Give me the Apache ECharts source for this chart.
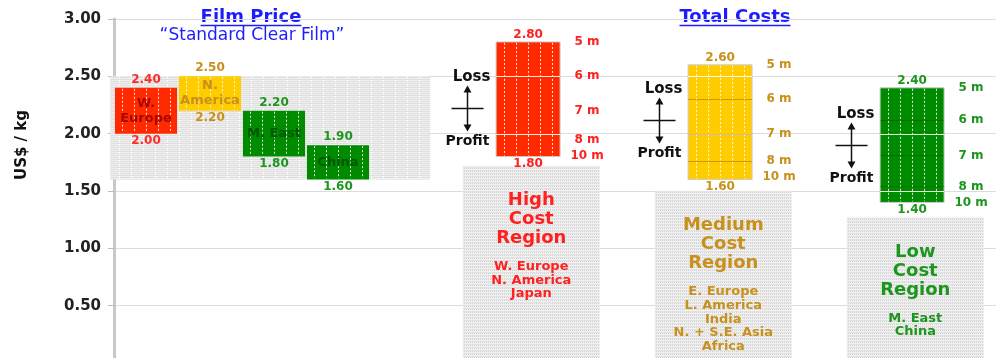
<!DOCTYPE html>
<html>
<head>
<meta charset="utf-8">
<script src="https://cdn.jsdelivr.net/npm/echarts@6/dist/echarts.min.js"></script>
<style>
    html, body { margin: 0; padding: 0; background: #fff; }
    #chart { width: 996px; height: 358px; }
</style>
</head>
<body>
<div id="chart"></div>
<script>
(function () {

    // film price by market (US$ / kg)
    var PRICE_NAMES = ['W.\nEurope', 'N.\nAmerica', 'M. East', 'China'];
    var PRICE_HIGH = [2.40, 2.50, 2.20, 1.90];
    var PRICE_LOW = [2.00, 2.20, 1.80, 1.60];
    var PRICE_BAND = [1.60, 2.50];

    // total costs by region, per plant volume
    var VOLUMES = ['5 m', '6 m', '7 m', '8 m', '10 m'];
    var COST_HIGH = [2.80, 2.50, 2.20, 1.95, 1.80];
    var COST_MEDIUM = [2.60, 2.30, 2.00, 1.76, 1.60];
    var COST_LOW = [2.40, 2.12, 1.81, 1.54, 1.40];
    var BREAK_EVEN = [2.22, 2.12, 1.90];
    var REGION_TOP = [1.72, 1.50, 1.27];
    var REGION_TITLES = ['High\nCost\nRegion', 'Medium\nCost\nRegion', 'Low\nCost\nRegion'];
    var REGION_COUNTRIES = [
        'W. Europe\nN. America\nJapan',
        'E. Europe\nL. America\nIndia\nN. + S.E. Asia\nAfrica',
        'M. East\nChina'
    ];

    // y axis ticks
    var Y_MIN = 0;
    var Y_MAX = 3;
    var Y_STEP = 0.5;

    var COSTS = [COST_HIGH, COST_MEDIUM, COST_LOW];

    var RED = '#ff2a00', YELLOW = '#ffcc00', GREEN = '#008a00';
    var PRICE_COLORS = [RED, YELLOW, GREEN, GREEN];
    var PRICE_TEXT = ['#ff2a2a', '#c8901c', '#1d961d', '#1d961d'];
    var PRICE_NAME_TEXT = ['#a80800', '#c8901c', '#005800', '#005800'];
    var COST_COLORS = [RED, YELLOW, GREEN];
    var COST_TEXT = ['#ff2020', '#c8901c', '#1d961d'];

    var FONT = '"DejaVu Sans", sans-serif';

    // x axis is measured in film bar slots
    var X_MAX = 882 / 64;
    var BAR_W = 0.97;
    var COST_W = 1.0;
    var BLOCK_W = 2.14;
    function priceX(i) { return i + 0.5; }
    function costX(i) { return 6.47 + 3 * i; }

    var chart = echarts.init(document.getElementById('chart'));

    //
    function makePattern(w, h, draw) {
        var c = document.createElement('canvas');
        c.width = w;
        c.height = h;
        draw(c.getContext('2d'));
        return { image: c, repeat: 'repeat' };
    }

    var bandFill = makePattern(12, 4, function (ctx) {
        ctx.fillStyle = '#dedede';
        ctx.fillRect(0, 0, 12, 4);
        ctx.fillStyle = '#f0f0f0';
        ctx.fillRect(0, 0, 12, 1);
        ctx.fillRect(0, 2, 12, 1);
        ctx.fillStyle = '#ffffff';
        ctx.fillRect(11, 0, 1, 2);
    });

    var blockFill = makePattern(2, 3, function (ctx) {
        ctx.fillStyle = '#f1f1f1';
        ctx.fillRect(0, 0, 2, 3);
        ctx.fillStyle = '#d2d2d2';
        ctx.fillRect(0, 0, 1, 1);
        ctx.fillStyle = '#e2e2e2';
        ctx.fillRect(0, 2, 2, 1);
    });

    function textWidth(font, text) {
        var ctx = document.createElement('canvas').getContext('2d');
        ctx.font = font;
        return ctx.measureText(text).width;
    }

    function label(text, x, y, color, size, extra) {
        var el = {
            type: 'text',
            style: {
                text: text,
                x: x,
                y: y,
                fill: color,
                font: 'bold ' + size + 'px ' + FONT,
                align: 'center',
                verticalAlign: 'middle'
            }
        };
        if (extra) {
            for (var k in extra) el.style[k] = extra[k];
        }
        return el;
    }

    function dottedLines(left, top, w, h) {
        var out = [];
        for (var k = 0; k < 5; k++) {
            var x = Math.round(left + w * (0.12 + 0.19 * k)) + 0.5;
            out.push({
                type: 'line',
                shape: { x1: x, y1: top + 1, x2: x, y2: top + h - 1 },
                style: { stroke: 'rgba(255,255,255,0.85)', lineWidth: 1, lineDash: [2, 2] }
            });
        }
        return out;
    }

    //
    function renderBand(params, api) {
        var p1 = api.coord([-0.06, api.value(1)]);
        var p2 = api.coord([4.94, api.value(0)]);
        return {
            type: 'rect',
            shape: { x: p1[0], y: p1[1], width: p2[0] - p1[0], height: p2[1] - p1[1] },
            style: { fill: bandFill }
        };
    }

    //
    function renderPrice(params, api) {
        var i = params.dataIndex;
        var hi = api.value(1), lo = api.value(2);
        var p1 = api.coord([priceX(i) - BAR_W / 2, hi]);
        var p2 = api.coord([priceX(i) + BAR_W / 2, lo]);
        var w = p2[0] - p1[0], h = p2[1] - p1[1];
        var cx = p1[0] + w / 2;
        var children = [{
            type: 'rect',
            shape: { x: p1[0], y: p1[1], width: w, height: h },
            style: { fill: PRICE_COLORS[i] }
        }];
        children = children.concat(dottedLines(p1[0], p1[1], w, h));
        children.push(label(PRICE_NAMES[i], cx, p1[1] + h / 2, PRICE_NAME_TEXT[i], 13, { lineHeight: 15 }));
        children.push(label(hi.toFixed(2), cx, p1[1] - 8, PRICE_TEXT[i], 12));
        children.push(label(lo.toFixed(2), cx, p2[1] + 7, PRICE_TEXT[i], 12));
        return { type: 'group', children: children };
    }

    //
    function renderBlock(params, api) {
        var i = params.dataIndex;
        var p1 = api.coord([costX(i) + 0.05 - BLOCK_W / 2, api.value(1)]);
        var p2 = api.coord([costX(i) + 0.05 + BLOCK_W / 2, 0]);
        var cx = (p1[0] + p2[0]) / 2;
        return {
            type: 'group',
            children: [{
                type: 'rect',
                shape: { x: p1[0], y: p1[1], width: p2[0] - p1[0], height: p2[1] - p1[1] },
                style: { fill: blockFill }
            },
            label(REGION_TITLES[i], cx, p1[1] + 25, COST_TEXT[i], 18, { lineHeight: 19, verticalAlign: 'top' }),
            label(REGION_COUNTRIES[i], cx, p1[1] + 94, COST_TEXT[i], 13, { lineHeight: 13.7, verticalAlign: 'top' })]
        };
    }

    //
    function renderCost(params, api) {
        var i = params.dataIndex;
        var vals = COSTS[i];
        var top = vals[0], bottom = vals[vals.length - 1];
        var p1 = api.coord([costX(i) - COST_W / 2, top]);
        var p2 = api.coord([costX(i) + COST_W / 2, bottom]);
        var w = p2[0] - p1[0], h = p2[1] - p1[1];
        var cx = p1[0] + w / 2;
        var children = [{
            type: 'rect',
            shape: { x: p1[0], y: p1[1], width: w, height: h },
            style: { fill: COST_COLORS[i], stroke: '#cccccc', lineWidth: 1 }
        }];
        children = children.concat(dottedLines(p1[0], p1[1], w, h));

        // grid lines show through the bar
        for (var v = Y_MIN; v <= Y_MAX; v += Y_STEP) {
            if (v > bottom && v < top) {
                var gy = Math.round(api.coord([0, v])[1]) + 0.5;
                children.push({
                    type: 'line',
                    shape: { x1: p1[0], y1: gy, x2: p2[0], y2: gy },
                    style: { stroke: 'rgba(255,255,255,0.9)', lineWidth: 1 }
                });
            }
        }

        // volume levels
        var prevY = null;
        for (var k = 0; k < vals.length; k++) {
            var y = api.coord([0, vals[k]])[1];
            if (k > 0 && k < vals.length - 1 && i > 0) {
                var ly = Math.round(y) + 0.5;
                children.push({
                    type: 'line',
                    shape: { x1: p1[0], y1: ly, x2: p2[0], y2: ly },
                    style: { stroke: 'rgba(40,40,0,0.28)', lineWidth: 1 }
                });
            }
            var ty = y;
            if (k === vals.length - 1 && ty > prevY + 16) ty = prevY + 16;
            prevY = ty;
            children.push(label(VOLUMES[k], p2[0] + 27, ty, COST_TEXT[i], 12));
        }

        children.push(label(top.toFixed(2), cx, p1[1] - 7, COST_TEXT[i], 12));
        children.push(label(bottom.toFixed(2), cx, p2[1] + 7, COST_TEXT[i], 12));
        return { type: 'group', children: children };
    }

    //
    function renderMarker(params, api) {
        var i = params.dataIndex;
        var p = api.coord([costX(i) - 0.95, api.value(1)]);
        var x = Math.round(p[0]) + 0.5, y = Math.round(p[1]) + 0.5;
        var ink = '#111111';
        return {
            type: 'group',
            children: [{
                type: 'line',
                shape: { x1: x - 16, y1: y, x2: x + 16, y2: y },
                style: { stroke: ink, lineWidth: 1.3 }
            }, {
                type: 'line',
                shape: { x1: x, y1: y - 17, x2: x, y2: y + 17 },
                style: { stroke: ink, lineWidth: 1.5 }
            }, {
                type: 'polygon',
                shape: { points: [[x - 4, y - 16], [x + 4, y - 16], [x, y - 23]] },
                style: { fill: ink }
            }, {
                type: 'polygon',
                shape: { points: [[x - 4, y + 16], [x + 4, y + 16], [x, y + 23]] },
                style: { fill: ink }
            },
            label('Loss', x + 4, y - 31, ink, 15),
            label('Profit', x, y + 33, ink, 14)]
        };
    }

    //
    var titleFont = 'bold 18px ' + FONT;
    var w1 = textWidth(titleFont, 'Film Price');
    var w2 = textWidth(titleFont, 'Total Costs');
    var BLUE = '#1c1cff';

    var option = {
        animation: false,
        grid: { left: 114, right: 0, top: 19, bottom: -5, containLabel: false, outerBoundsMode: 'none' },
        xAxis: {
            type: 'value',
            min: 0,
            max: X_MAX,
            show: false
        },
        yAxis: {
            type: 'value',
            min: Y_MIN,
            max: Y_MAX,
            interval: Y_STEP,
            axisLine: { show: true, lineStyle: { color: '#c8c8c8', width: 3 } },
            axisTick: { show: true, length: 6, lineStyle: { color: '#bdbdbd' } },
            axisLabel: {
                showMinLabel: false,
                formatter: function (v) { return v.toFixed(2); },
                color: '#222',
                fontWeight: 'bold',
                fontSize: 15,
                fontFamily: FONT,
                margin: 13
            },
            splitLine: { lineStyle: { color: '#dcdcdc' } }
        },
        graphic: [{
            type: 'text',
            x: 22,
            y: 145,
            rotation: Math.PI / 2,
            style: { text: 'US$ / kg', fill: '#111', font: 'bold 15px ' + FONT, align: 'center', verticalAlign: 'middle' }
        }, {
            type: 'text',
            x: 251,
            y: 17,
            style: { text: 'Film Price', fill: BLUE, font: titleFont, align: 'center', verticalAlign: 'middle' }
        }, {
            type: 'line',
            shape: { x1: 251 - w1 / 2, y1: 25.5, x2: 251 + w1 / 2, y2: 25.5 },
            style: { stroke: BLUE, lineWidth: 1.5 }
        }, {
            type: 'text',
            x: 252,
            y: 36,
            style: { text: '\u201cStandard Clear Film\u201d', fill: BLUE, font: '17px ' + FONT, align: 'center', verticalAlign: 'middle' }
        }, {
            type: 'text',
            x: 735,
            y: 17,
            style: { text: 'Total Costs', fill: BLUE, font: titleFont, align: 'center', verticalAlign: 'middle' }
        }, {
            type: 'line',
            shape: { x1: 735 - w2 / 2, y1: 25.5, x2: 735 + w2 / 2, y2: 25.5 },
            style: { stroke: BLUE, lineWidth: 1.5 }
        }],
        series: [{
            type: 'custom',
            clip: false,
            renderItem: renderBand,
            data: [[PRICE_BAND[0], PRICE_BAND[1]]]
        }, {
            type: 'custom',
            clip: false,
            renderItem: renderPrice,
            data: PRICE_HIGH.map(function (h, i) { return [i, h, PRICE_LOW[i]]; })
        }, {
            type: 'custom',
            clip: false,
            renderItem: renderBlock,
            data: REGION_TOP.map(function (t, i) { return [i, t]; })
        }, {
            type: 'custom',
            clip: false,
            renderItem: renderCost,
            data: COSTS.map(function (c, i) { return [i, c[0]]; })
        }, {
            type: 'custom',
            clip: false,
            renderItem: renderMarker,
            data: BREAK_EVEN.map(function (b, i) { return [i, b]; })
        }]
    };

    chart.setOption(option);

}());
</script>
</body>
</html>
